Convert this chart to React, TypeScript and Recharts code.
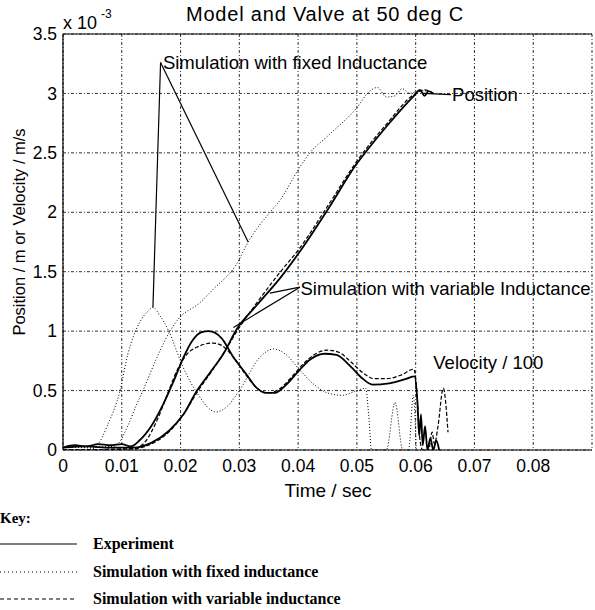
import {
  LineChart,
  Line,
  XAxis,
  YAxis,
  CartesianGrid,
  ReferenceLine,
  ReferenceDot,
} from 'recharts';

// Time axis ticks (s) and value ticks (x 10^-3)
const xTicks = [0, 0.01, 0.02, 0.03, 0.04, 0.05, 0.06, 0.07, 0.08];
const yTicks = [0, 0.5, 1, 1.5, 2, 2.5, 3, 3.5];

// Position - experiment
const expPosT = [0, 0.004, 0.008, 0.012, 0.015, 0.018, 0.0205, 0.0228, 0.025, 0.0273, 0.0296, 0.033, 0.037, 0.0403, 0.045, 0.05, 0.0517, 0.055, 0.0599, 0.0607, 0.0615, 0.0622, 0.063];
const expPosV = [0.02, 0.03, 0.02, 0.02, 0.06, 0.16, 0.3, 0.5, 0.65, 0.81, 1.02, 1.22, 1.45, 1.67, 2.02, 2.41, 2.52, 2.72, 2.99, 3.03, 2.98, 3.02, 3.0];

// Position - fixed inductance
const fixPosT = [0, 0.0085, 0.0095, 0.011, 0.0125, 0.0136, 0.016, 0.0182, 0.0196, 0.0233, 0.0255, 0.0296, 0.0315, 0.0352, 0.0369, 0.0403, 0.042, 0.045, 0.05, 0.0522, 0.0535, 0.055, 0.0565, 0.0577, 0.059, 0.0605, 0.062];
const fixPosV = [0.02, 0.03, 0.06, 0.2, 0.38, 0.5, 0.78, 1.0, 1.1, 1.24, 1.35, 1.57, 1.75, 2.0, 2.1, 2.38, 2.5, 2.64, 2.88, 3.02, 3.05, 2.97, 2.98, 3.04, 3.0, 3.02, 3.02];

// Position - variable inductance
const varPosT = [0, 0.012, 0.015, 0.018, 0.0205, 0.023, 0.025, 0.0275, 0.0296, 0.033, 0.037, 0.0403, 0.045, 0.05, 0.055, 0.06, 0.0615, 0.063];
const varPosV = [0, 0.01, 0.05, 0.15, 0.3, 0.5, 0.64, 0.83, 1.0, 1.24, 1.5, 1.7, 2.05, 2.43, 2.74, 3.0, 3.03, 3.0];

// Velocity / 100 - experiment
const expVelT = [0, 0.002, 0.004, 0.006, 0.008, 0.01, 0.0115, 0.013, 0.015, 0.017, 0.019, 0.0205, 0.022, 0.0235, 0.0248, 0.027, 0.029, 0.031, 0.033, 0.0345, 0.036, 0.038, 0.04, 0.042, 0.0445, 0.0465, 0.049, 0.051, 0.0527, 0.0555, 0.0585, 0.0598, 0.0603, 0.0606, 0.0609, 0.0612, 0.0616, 0.062, 0.0625, 0.063, 0.0635, 0.064];
const expVelV = [0.02, 0.04, 0.03, 0.05, 0.04, 0.05, 0.03, 0.08, 0.2, 0.38, 0.6, 0.78, 0.92, 0.99, 1.0, 0.94, 0.78, 0.65, 0.52, 0.48, 0.48, 0.55, 0.66, 0.76, 0.81, 0.8, 0.7, 0.6, 0.55, 0.56, 0.6, 0.62, 0.4, 0.12, 0.3, 0.04, 0.2, 0.0, 0.1, 0.0, 0.08, 0.0];

// Velocity / 100 - fixed inductance
const fixVelT = [0, 0.005, 0.006, 0.0075, 0.0097, 0.011, 0.013, 0.0145, 0.0153, 0.0165, 0.018, 0.0204, 0.0228, 0.026, 0.028, 0.03, 0.0335, 0.0358, 0.038, 0.04, 0.0425, 0.045, 0.0475, 0.05, 0.0515, 0.052, 0.0525, 0.055, 0.0565, 0.0578, 0.0588, 0.0596, 0.0601];
const fixVelV = [0, 0.01, 0.05, 0.2, 0.5, 0.8, 1.07, 1.17, 1.2, 1.13, 1.0, 0.7, 0.48, 0.32, 0.37, 0.5, 0.78, 0.85, 0.8, 0.69, 0.56, 0.48, 0.46, 0.5, 0.52, 0.3, 0.0, 0.0, 0.4, 0.0, 0.0, 0.46, 0.0];

// Velocity / 100 - variable inductance
const varVelT = [0, 0.012, 0.014, 0.016, 0.018, 0.0195, 0.021, 0.023, 0.0255, 0.027, 0.029, 0.031, 0.033, 0.035, 0.037, 0.039, 0.041, 0.043, 0.045, 0.047, 0.049, 0.051, 0.053, 0.055, 0.0575, 0.0597, 0.0602, 0.0607, 0.0612, 0.0622, 0.0628, 0.0632, 0.0638, 0.0647, 0.0655];
const varVelV = [0, 0.01, 0.07, 0.25, 0.5, 0.68, 0.8, 0.87, 0.9, 0.88, 0.78, 0.64, 0.52, 0.48, 0.52, 0.62, 0.73, 0.81, 0.84, 0.82, 0.74, 0.65, 0.6, 0.6, 0.63, 0.68, 0.5, 0.1, 0.0, 0.0, 0.15, 0.05, 0.2, 0.52, 0.15];

// In-plot labels and their leader lines
const annotations = [
  { t: 0.017, v: 3.26, text: 'Simulation with fixed Inductance' },
  { t: 0.0404, v: 1.36, text: 'Simulation with variable Inductance' },
  { t: 0.0662, v: 2.99, text: 'Position' },
  { t: 0.063, v: 0.74, text: 'Velocity / 100' },
];
const leaders = [
  [0.0166, 3.26, 0.0153, 1.2],
  [0.0166, 3.26, 0.0315, 1.75],
  [0.0403, 1.37, 0.029, 1.03],
  [0.0403, 1.37, 0.0352, 1.32],
  [0.0613, 3.0, 0.066, 2.99],
];

const toPoints = (t: number[], v: number[]) => t.map((x, i) => ({ t: x, v: v[i] }));

const FONT = '"Liberation Sans", Arial, sans-serif';
const SERIF = '"Liberation Serif", "Times New Roman", serif';

const series = [
  { key: 'expPos', data: toPoints(expPosT, expPosV), width: 1.8, dash: undefined },
  { key: 'fixPos', data: toPoints(fixPosT, fixPosV), width: 1, dash: '1 2' },
  { key: 'varPos', data: toPoints(varPosT, varPosV), width: 1.2, dash: '4 2' },
  { key: 'expVel', data: toPoints(expVelT, expVelV), width: 1.8, dash: undefined },
  { key: 'fixVel', data: toPoints(fixVelT, fixVelV), width: 1, dash: '1 2' },
  { key: 'varVel', data: toPoints(varVelT, varVelV), width: 1.2, dash: '4 2' },
];

export default function App() {
  return (
    <div style={{ position: 'absolute', left: 0, top: 0, width: 595, height: 610, background: '#fff' }}>
      <LineChart
        width={595}
        height={610}
        margin={{ top: 34, right: 3, bottom: 130, left: 0 }}
      >
        <CartesianGrid stroke="#000" strokeWidth={0.8} strokeDasharray="3 2 1 2" />
        <XAxis
          type="number"
          dataKey="t"
          domain={[0, 0.09]}
          ticks={xTicks}
          height={30}
          tickSize={0}
          tickMargin={10}
          axisLine={{ stroke: '#000', strokeWidth: 1.2 }}
          tick={{ fill: '#000', fontSize: 17.5, fontFamily: FONT }}
          tickFormatter={(v: number) => (v === 0 ? '0' : v.toFixed(2))}
          allowDataOverflow
        />
        <YAxis
          type="number"
          dataKey="v"
          domain={[0, 3.5]}
          ticks={yTicks}
          width={63}
          tickSize={0}
          tickMargin={6}
          axisLine={{ stroke: '#000', strokeWidth: 1.2 }}
          tick={{ fill: '#000', fontSize: 17.5, fontFamily: FONT }}
          allowDataOverflow
        />
        <ReferenceLine y={3.5} stroke="#000" strokeWidth={1.2} />
        {series.map((s) => (
          <Line
            key={s.key}
            data={s.data}
            dataKey="v"
            type="monotone"
            stroke="#000"
            strokeWidth={s.width}
            strokeDasharray={s.dash}
            dot={false}
            isAnimationActive={false}
          />
        ))}
        {leaders.map((l, i) => (
          <ReferenceLine
            key={`leader-${i}`}
            segment={[{ x: l[0], y: l[1] }, { x: l[2], y: l[3] }]}
            stroke="#000"
            strokeWidth={1.2}
            ifOverflow="visible"
          />
        ))}
        {annotations.map((a) => (
          <ReferenceDot
            key={a.text}
            x={a.t}
            y={a.v}
            r={0}
            ifOverflow="visible"
            shape={(p: any) => (
              <text x={p.cx} y={p.cy} dy="0.35em" fill="#000" fontSize={18.5} fontFamily={FONT}>
                {a.text}
              </text>
            )}
          />
        ))}
      </LineChart>
      <svg width={595} height={610} style={{ position: 'absolute', left: 0, top: 0, pointerEvents: 'none' }}>
        <text x={325} y={21} textAnchor="middle" fontSize={20} letterSpacing={0.8} fontFamily={FONT}>
          Model and Valve at 50 deg C
        </text>
        <text x={63} y={29} fontSize={18} fontFamily={FONT}>x 10</text>
        <text x={101} y={18} fontSize={12} fontFamily={FONT}>-3</text>
        <text
          transform="translate(25,232) rotate(-90)"
          textAnchor="middle"
          fontSize={16.5}
          fontFamily={FONT}
        >
          Position / m or Velocity / m/s
        </text>
        <text x={328} y={497} textAnchor="middle" fontSize={19} fontFamily={FONT}>
          Time / sec
        </text>
        <text x={0} y={523} fontSize={15} fontWeight="bold" fontFamily={SERIF}>Key:</text>
        <line x1={0} x2={77} y1={544} y2={544} stroke="#000" strokeWidth={1.2} />
        <line x1={0} x2={77} y1={572} y2={572} stroke="#000" strokeWidth={1} strokeDasharray="1 3" />
        <line x1={0} x2={77} y1={599} y2={599} stroke="#000" strokeWidth={1.2} strokeDasharray="4 3" />
        <text x={93} y={549} fontSize={16} fontWeight="bold" fontFamily={SERIF}>Experiment</text>
        <text x={93} y={577} fontSize={16} fontWeight="bold" fontFamily={SERIF}>Simulation with fixed inductance</text>
        <text x={93} y={604} fontSize={16} fontWeight="bold" fontFamily={SERIF}>Simulation with variable inductance</text>
      </svg>
    </div>
  );
}
